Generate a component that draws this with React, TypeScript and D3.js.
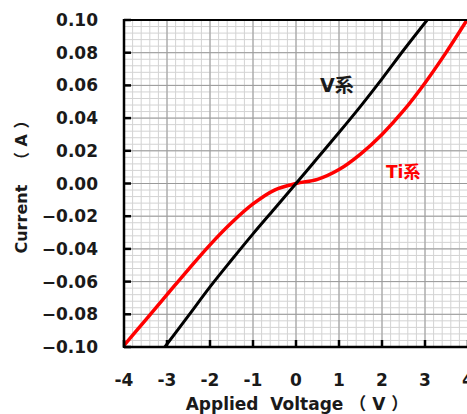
import React from "react";
import * as d3 from "d3";

const xTicks = [-4, -3, -2, -1, 0, 1, 2, 3, 4];
const yTicks = [-0.1, -0.08, -0.06, -0.04, -0.02, 0, 0.02, 0.04, 0.06, 0.08, 0.1];

const vVoltage = [-3.05, -2.5, -2, -1.5, -1, -0.5, 0, 0.5, 1, 1.5, 2, 2.5, 3.05];
const vCurrent = [-0.1, -0.0808, -0.0632, -0.0468, -0.0308, -0.0154, 0, 0.0156, 0.0312, 0.0472, 0.064, 0.0815, 0.1];

const tiVoltage = [-4, -3.5, -3, -2.5, -2, -1.5, -1, -0.5, 0, 0.5, 1, 1.5, 2, 2.5, 3, 3.5, 4];
const tiCurrent = [-0.099, -0.0835, -0.068, -0.0525, -0.0375, -0.024, -0.0125, -0.004, 0, 0.0025, 0.0085, 0.018, 0.03, 0.0445, 0.0615, 0.0805, 0.101];

const W = 467;
const H = 414;
const left = 124, right = 468, top = 20, bottom = 347;
const FONT = "'DejaVu Sans', 'Noto Sans CJK JP', sans-serif";

export default function App() {
  const x = d3.scaleLinear().domain([-4, 4]).range([left, right]);
  const y = d3.scaleLinear().domain([-0.1, 0.1]).range([bottom, top]);

  const minorX = d3.range(-4, 4.0001, 0.2);
  const minorY = d3.range(-0.1, 0.10001, 0.004);

  const line = d3
    .line<[number, number]>()
    .x((d) => x(d[0]))
    .y((d) => y(d[1]))
    .curve(d3.curveCatmullRom.alpha(0.5));

  const vPts = vVoltage.map((v, i) => [v, vCurrent[i]] as [number, number]);
  const tiPts = tiVoltage.map((v, i) => [v, tiCurrent[i]] as [number, number]);

  return (
    <svg width={W} height={H} style={{ position: "absolute", left: 0, top: 0, background: "#fff" }}>
      <defs>
        <clipPath id="plot">
          <rect x={left} y={top} width={right - left} height={bottom - top} />
        </clipPath>
      </defs>
      {/* minor grid */}
      {minorX.map((v, i) => (
        <line key={"mx" + i} x1={x(v)} x2={x(v)} y1={top} y2={bottom} stroke="#d3d3d3" strokeWidth={1} />
      ))}
      {minorY.map((v, i) => (
        <line key={"my" + i} x1={left} x2={right} y1={y(v)} y2={y(v)} stroke="#d3d3d3" strokeWidth={1} />
      ))}
      {/* major grid */}
      {xTicks.map((v) => (
        <line key={"Mx" + v} x1={x(v)} x2={x(v)} y1={top} y2={bottom} stroke="#9a9a9a" strokeWidth={1} />
      ))}
      {yTicks.map((v) => (
        <line key={"My" + v} x1={left} x2={right} y1={y(v)} y2={y(v)} stroke="#9a9a9a" strokeWidth={1} />
      ))}
      {/* curves */}
      <g clipPath="url(#plot)">
        <path d={line(tiPts) || ""} fill="none" stroke="#ff0000" strokeWidth={3.5} />
        <path d={line(vPts) || ""} fill="none" stroke="#000" strokeWidth={3} />
      </g>
      {/* frame */}
      <line x1={left} x2={right} y1={top} y2={top} stroke="#000" strokeWidth={2} />
      <line x1={left} x2={left} y1={top - 1} y2={bottom + 1} stroke="#000" strokeWidth={2.5} />
      <line x1={left} x2={right} y1={bottom} y2={bottom} stroke="#000" strokeWidth={2.5} />
      {/* ticks */}
      {yTicks.map((v) => (
        <line key={"ty" + v} x1={left} x2={left + 7} y1={y(v)} y2={y(v)} stroke="#000" strokeWidth={2.5} />
      ))}
      {xTicks.map((v) => (
        <line key={"tx" + v} x1={x(v)} x2={x(v)} y1={bottom} y2={bottom - 7} stroke="#000" strokeWidth={2.5} />
      ))}
      {/* tick labels */}
      {yTicks.map((v) => (
        <text key={"ly" + v} x={98} y={y(v) + 6} textAnchor="end" fontFamily={FONT} fontWeight="bold" fontSize={17} fill="#1a1a1a">
          {d3.format(".2f")(v)}
        </text>
      ))}
      {xTicks.map((v) => (
        <text key={"lx" + v} x={x(v)} y={386} textAnchor="middle" fontFamily={FONT} fontWeight="bold" fontSize={17} fill="#1a1a1a">
          {v}
        </text>
      ))}
      {/* axis titles */}
      <text x={297} y={410} textAnchor="middle" fontFamily={FONT} fontWeight="bold" fontSize={17} fill="#1a1a1a" style={{ whiteSpace: "pre" }}>
        {"Applied  Voltage （ V ）"}
      </text>
      <text
        transform="translate(27,183) rotate(-90)"
        textAnchor="middle"
        fontFamily={FONT}
        fontWeight="bold"
        fontSize={16}
        fill="#1a1a1a"
        style={{ whiteSpace: "pre" }}
      >
        {"Current   （ A ）"}
      </text>
      {/* series labels */}
      <text x={320} y={92} fontFamily={FONT} fontWeight="bold" fontSize={19} fill="#1a1a1a">
        V系
      </text>
      <text x={386} y={178} fontFamily={FONT} fontWeight="bold" fontSize={17} fill="#ff0000">
        Ti系
      </text>
    </svg>
  );
}
